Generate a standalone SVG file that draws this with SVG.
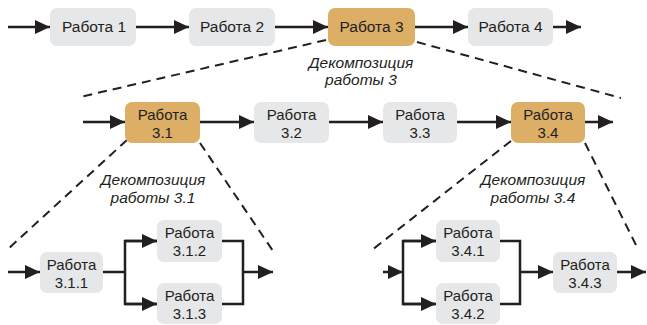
<svg xmlns="http://www.w3.org/2000/svg" width="647" height="325" viewBox="0 0 647 325">
<style>
.g{fill:#e6e7e8}
.o{fill:#dcae66}
.t{font-family:"Liberation Sans",Arial,sans-serif;font-size:15px;fill:#231f20;text-anchor:middle}
.t1{font-size:15.5px}
.i{font-family:"Liberation Sans",Arial,sans-serif;font-size:15.5px;font-style:italic;fill:#231f20;text-anchor:middle}
.a{stroke:#231f20;stroke-width:2.5;fill:none}
.d{stroke:#231f20;stroke-width:2;fill:none;stroke-dasharray:9 6}
</style>
<defs>
<marker id="ah" markerUnits="userSpaceOnUse" markerWidth="16" markerHeight="14" refX="15" refY="7" orient="auto">
<path d="M0,0 L15,7 L0,14 Z" fill="#231f20"/>
</marker>
</defs>
<g id="connectors">
<line class="a" x1="8" y1="27" x2="50" y2="27" marker-end="url(#ah)"/>
<line class="a" x1="136" y1="27" x2="189" y2="27" marker-end="url(#ah)"/>
<line class="a" x1="275" y1="27" x2="328" y2="27" marker-end="url(#ah)"/>
<line class="a" x1="415" y1="27" x2="468" y2="27" marker-end="url(#ah)"/>
<line class="a" x1="553" y1="27" x2="581" y2="27" marker-end="url(#ah)"/>
<line class="d" x1="326" y1="40" x2="80" y2="97"/>
<line class="d" x1="417" y1="42" x2="621" y2="98"/>
<line class="a" x1="83" y1="122" x2="125" y2="122" marker-end="url(#ah)"/>
<line class="a" x1="200" y1="122" x2="254" y2="122" marker-end="url(#ah)"/>
<line class="a" x1="329" y1="122" x2="383" y2="122" marker-end="url(#ah)"/>
<line class="a" x1="457" y1="122" x2="511" y2="122" marker-end="url(#ah)"/>
<line class="a" x1="585" y1="122" x2="613" y2="122" marker-end="url(#ah)"/>
<line class="d" x1="127" y1="140" x2="8" y2="249"/>
<line class="d" x1="200" y1="143" x2="273" y2="251"/>
<line class="d" x1="511" y1="141" x2="372" y2="250"/>
<line class="d" x1="585" y1="143" x2="638" y2="249"/>
<line class="a" x1="8" y1="272" x2="40" y2="272" marker-end="url(#ah)"/>
<polyline class="a" points="103,272 125,272"/>
<polyline class="a" points="157,241 125,241 125,304 157,304"/>
<line class="a" x1="125" y1="241" x2="157" y2="241" marker-end="url(#ah)"/>
<line class="a" x1="125" y1="304" x2="157" y2="304" marker-end="url(#ah)"/>
<polyline class="a" points="222,241 243,241 243,304 222,304"/>
<line class="a" x1="243" y1="272" x2="273" y2="272" marker-end="url(#ah)"/>
<line class="a" x1="383" y1="272" x2="403" y2="272" marker-end="url(#ah)"/>
<polyline class="a" points="436,241 403,241 403,304 436,304"/>
<line class="a" x1="403" y1="241" x2="436" y2="241" marker-end="url(#ah)"/>
<line class="a" x1="403" y1="304" x2="436" y2="304" marker-end="url(#ah)"/>
<polyline class="a" points="500,241 520,241 520,304 500,304"/>
<line class="a" x1="520" y1="272" x2="553" y2="272" marker-end="url(#ah)"/>
<line class="a" x1="617" y1="272" x2="646" y2="272" marker-end="url(#ah)"/>
</g>
<g id="n1"><rect class="g" x="50" y="8" width="86" height="38" rx="7"/><text class="t t1" x="94" y="32">Работа 1</text></g>
<g id="n2"><rect class="g" x="189" y="8" width="86" height="38" rx="7"/><text class="t t1" x="232" y="32">Работа 2</text></g>
<g id="n3"><rect class="o" x="328" y="8" width="87" height="38" rx="7"/><text class="t t1" x="371.5" y="32">Работа 3</text></g>
<g id="n4"><rect class="g" x="468" y="8" width="85" height="38" rx="7"/><text class="t t1" x="510.5" y="32">Работа 4</text></g>
<g id="lbl3"><text class="i" x="361" y="68">Декомпозиция</text><text class="i" x="361" y="85">работы 3</text></g>
<g id="n31"><rect class="o" x="125" y="102" width="75" height="41" rx="7"/><text class="t" x="162.5" y="120">Работа</text><text class="t" x="162.5" y="138">3.1</text></g>
<g id="n32"><rect class="g" x="254" y="102" width="75" height="41" rx="7"/><text class="t" x="291.5" y="120">Работа</text><text class="t" x="291.5" y="138">3.2</text></g>
<g id="n33"><rect class="g" x="383" y="102" width="74" height="41" rx="7"/><text class="t" x="420" y="120">Работа</text><text class="t" x="420" y="138">3.3</text></g>
<g id="n34"><rect class="o" x="511" y="102" width="74" height="41" rx="7"/><text class="t" x="548" y="120">Работа</text><text class="t" x="548" y="138">3.4</text></g>
<g id="lbl31"><text class="i" x="153" y="185">Декомпозиция</text><text class="i" x="153" y="203">работы 3.1</text></g>
<g id="lbl34"><text class="i" x="533" y="185">Декомпозиция</text><text class="i" x="533" y="203">работы 3.4</text></g>
<g id="n311"><rect class="g" x="40" y="252" width="63" height="41" rx="7"/><text class="t" x="71.5" y="270">Работа</text><text class="t" x="71.5" y="288">3.1.1</text></g>
<g id="n312"><rect class="g" x="157" y="220" width="65" height="42" rx="7"/><text class="t" x="189.5" y="238">Работа</text><text class="t" x="189.5" y="256">3.1.2</text></g>
<g id="n313"><rect class="g" x="157" y="283" width="65" height="41" rx="7"/><text class="t" x="189.5" y="301">Работа</text><text class="t" x="189.5" y="319">3.1.3</text></g>
<g id="n341"><rect class="g" x="436" y="220" width="64" height="42" rx="7"/><text class="t" x="468" y="238">Работа</text><text class="t" x="468" y="256">3.4.1</text></g>
<g id="n342"><rect class="g" x="436" y="283" width="64" height="41" rx="7"/><text class="t" x="468" y="301">Работа</text><text class="t" x="468" y="319">3.4.2</text></g>
<g id="n343"><rect class="g" x="553" y="252" width="64" height="41" rx="7"/><text class="t" x="585" y="270">Работа</text><text class="t" x="585" y="288">3.4.3</text></g>
</svg>
